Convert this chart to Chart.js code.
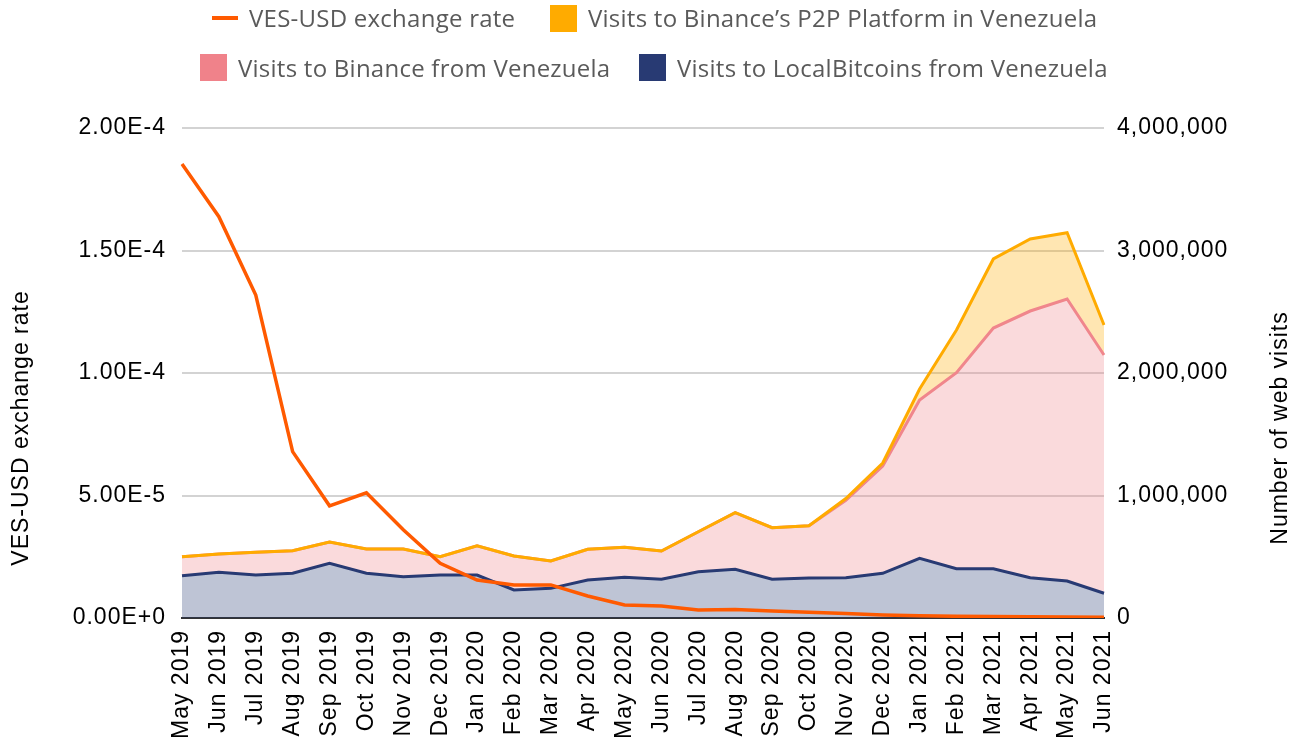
<!DOCTYPE html>
<html>
<head>
<meta charset="utf-8">
<script src="https://cdn.jsdelivr.net/npm/chart.js@4"></script>
<style>
  html, body { margin: 0; padding: 0; background: #fff; }
  #wrap { position: relative; width: 1304px; height: 744px; }
  #chart { position: absolute; left: 0; top: 0; }
  #legend { position: absolute; left: 0; top: 0; width: 1304px; height: 90px;
            font-family: 'Open Sans', sans-serif; font-size: 24px; color: #5a5a5a; letter-spacing: 0.25px; }
  .txt { position: absolute; white-space: nowrap; line-height: 36px; }
  .box { position: absolute; width: 27px; height: 27px; }
  .dash { position: absolute; width: 26px; height: 4px; }
</style>
</head>
<body>
<div id="wrap">
  <canvas id="chart" width="1304" height="744"></canvas>
  <div id="legend">
    <div class="dash" style="left:212px; top:16px; background:#ff5a00"></div>
    <div class="txt" id="lg0" style="left:249px; top:0px"></div>
    <div class="box" style="left:550px; top:5px; background:#ffab00"></div>
    <div class="txt" id="lg1" style="left:588px; top:0px"></div>
    <div class="box" style="left:200px; top:54px; background:#f0828a"></div>
    <div class="txt" id="lg2" style="left:238px; top:50px"></div>
    <div class="box" style="left:639px; top:54px; background:#283a73"></div>
    <div class="txt" id="lg3" style="left:677px; top:50px"></div>
  </div>
</div>
<script>
// months on the x axis
const months = ['May 2019', 'Jun 2019', 'Jul 2019', 'Aug 2019', 'Sep 2019', 'Oct 2019', 'Nov 2019',
  'Dec 2019', 'Jan 2020', 'Feb 2020', 'Mar 2020', 'Apr 2020', 'May 2020', 'Jun 2020', 'Jul 2020',
  'Aug 2020', 'Sep 2020', 'Oct 2020', 'Nov 2020', 'Dec 2020', 'Jan 2021', 'Feb 2021', 'Mar 2021',
  'Apr 2021', 'May 2021', 'Jun 2021'];

// VES-USD exchange rate (left axis)
const vesUsd = [1.853e-4, 1.638e-4, 1.318e-4, 6.79e-5, 4.58e-5, 5.11e-5, 3.6e-5, 2.23e-5, 1.55e-5,
  1.35e-5, 1.35e-5, 9.0e-6, 5.3e-6, 4.9e-6, 3.3e-6, 3.5e-6, 2.9e-6, 2.3e-6, 1.8e-6, 1.2e-6,
  9e-7, 7e-7, 6e-7, 5e-7, 4e-7, 3.5e-7];

// web visits (right axis), stacked: LocalBitcoins at the bottom, then Binance, then P2P
const localBitcoins = [345000, 373000, 351000, 365000, 447000, 365000, 337000, 351000, 351000,
  229000, 242000, 310000, 332000, 316000, 378000, 398000, 316000, 327000, 329000, 365000,
  487000, 402000, 402000, 329000, 302000, 202000];
const binance = [155000, 149000, 185000, 184000, 173000, 198000, 226000, 149000, 239000,
  277000, 223000, 251000, 245000, 231000, 326000, 462000, 421000, 426000, 631000, 876000,
  1293000, 1600000, 1965000, 2177000, 2302000, 1945000];
const binanceP2P = [0, 0, 0, 0, 0, 0, 0, 0, 0, 0, 0, 0, 0, 0, 0, 0, 0, 0,
  15000, 24000, 89000, 349000, 564000, 588000, 541000, 245000];

const seriesNames = ['VES-USD exchange rate', 'Visits to Binance’s P2P Platform in Venezuela',
  'Visits to Binance from Venezuela', 'Visits to LocalBitcoins from Venezuela'];
const axisNames = ['VES-USD exchange rate', 'Number of web visits'];

seriesNames.forEach((n, i) => { document.getElementById('lg' + i).textContent = n; });

// stack tops for the area lines
const binanceTop = binance.map((v, i) => v + localBitcoins[i]);
const p2pTop = binanceP2P.map((v, i) => v + binanceTop[i]);

const tickFont = { family: 'Liberation Sans, Arial, sans-serif', size: 23 };

// axis titles are centred a bit lower than the plot, so draw them by hand
const axisTitles = {
  id: 'axisTitles',
  beforeDraw(chart) {
    chart.ctx.letterSpacing = '1px';
  },
  afterDraw(chart) {
    const ctx = chart.ctx;
    [[22, axisNames[0]], [1281, axisNames[1]]].forEach(([x, text]) => {
      ctx.save();
      ctx.font = '23px "Liberation Sans", Arial, sans-serif';
      ctx.fillStyle = '#000';
      ctx.textAlign = 'center';
      ctx.textBaseline = 'middle';
      ctx.translate(x, 428);
      ctx.rotate(-Math.PI / 2);
      ctx.fillText(text, 0, 0);
      ctx.restore();
    });
  }
};

new Chart(document.getElementById('chart'), {
  type: 'line',
  data: {
    labels: months,
    datasets: [{
      label: seriesNames[0],
      data: vesUsd,
      yAxisID: 'y',
      borderColor: '#ff5a00',
      borderWidth: 3.5,
      fill: false
    }, {
      label: seriesNames[1],
      data: p2pTop,
      yAxisID: 'y1',
      borderColor: '#ffab00',
      backgroundColor: 'rgba(255,171,0,0.3)',
      borderWidth: 3,
      fill: '+1'
    }, {
      label: seriesNames[2],
      data: binanceTop,
      yAxisID: 'y1',
      borderColor: '#f0868c',
      backgroundColor: 'rgba(240,134,140,0.3)',
      borderWidth: 3,
      fill: '+1'
    }, {
      label: seriesNames[3],
      data: localBitcoins,
      yAxisID: 'y1',
      borderColor: '#283a73',
      backgroundColor: 'rgba(40,58,115,0.3)',
      borderWidth: 3,
      fill: 'origin'
    }]
  },
  options: {
    responsive: false,
    animation: false,
    devicePixelRatio: 1,
    layout: { padding: { top: 128, left: 0, right: 0, bottom: 0 } },
    elements: {
      point: { radius: 0 },
      line: { tension: 0 }
    },
    plugins: {
      legend: { display: false },
      tooltip: { enabled: false },
      filler: { drawTime: 'beforeDatasetsDraw' }
    },
    scales: {
      x: {
        grid: { display: false, drawTicks: false },
        border: { display: true, color: '#333', width: 2 },
        ticks: {
          autoSkip: false, minRotation: 90, maxRotation: 90, padding: 12,
          color: '#000', font: tickFont
        },
        afterFit: s => { s.height = 126; }
      },
      y: {
        position: 'left',
        min: 0, max: 2e-4,
        grid: { color: '#d3d3d3', lineWidth: 2, drawTicks: false },
        border: { display: false },
        ticks: {
          stepSize: 5e-5, padding: 16, color: '#000', font: tickFont,
          callback: v => v.toExponential(2).toUpperCase()
        },
        afterFit: s => { s.width = 182; }
      },
      y1: {
        position: 'right',
        min: 0, max: 4e6,
        grid: { display: false, drawTicks: false },
        border: { display: false },
        ticks: {
          stepSize: 1e6, padding: 13, color: '#000', font: tickFont,
          callback: v => v.toLocaleString('en-US')
        },
        afterFit: s => { s.width = 200; }
      }
    }
  },
  plugins: [axisTitles]
});
</script>
</body>
</html>
